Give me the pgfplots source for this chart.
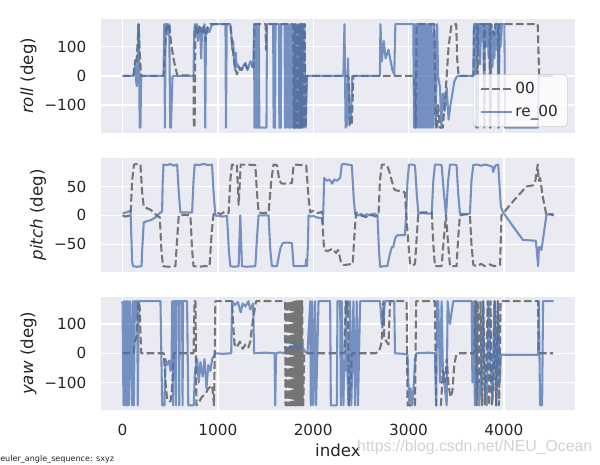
\documentclass[border=0pt]{standalone}
\usepackage{fontspec}
\setmainfont{DejaVu Sans}
\newfontfamily\wmfont{Liberation Sans}
\usepackage{pgfplots}
\pgfplotsset{compat=1.18}

\definecolor{bgc}{HTML}{EAEAF2}
\definecolor{txt}{HTML}{262626}
\definecolor{snsblue}{HTML}{4C72B0}
\definecolor{dgray}{HTML}{696969}

\pgfplotsset{
  sns/.style={
    scale only axis, width=341.3pt, height=81.7pt,
    xmin=-226, xmax=4746, anchor=south west,
    axis background/.style={fill=bgc},
    axis line style={draw=none},
    major tick length=0pt,
    grid=major, major grid style={white, line width=1pt},
    xtick={0,1000,2000,3000,4000},
    tick label style={font=\fontsize{11}{13}\selectfont, text=txt},
    yticklabel style={xshift=-7pt},
    xticklabel style={yshift=-7pt},
    label style={font=\fontsize{12}{14}\selectfont, text=txt},
  },
  orig/.style={dgray, opacity=0.9, line width=1.5pt, dash pattern=on 5.55pt off 2.4pt, line join=round},
  recon/.style={snsblue, opacity=0.75, line width=1.5pt, line join=round},
}

\begin{document}
\begin{tikzpicture}
\useasboundingbox (0,0) rectangle (432pt,334.8pt);

% roll
\begin{axis}[sns, at={(72.7pt,239.3pt)},
  ymin=-195, ymax=195, ytick={-100,0,100}, yticklabels={−100,0,100},
  xticklabels={},
  ylabel={\textit{roll} (deg)},
  ylabel style={at={(axis description cs:-0.153,0.5)}, anchor=center},
  legend style={at={(axis description cs:0.985,0.513)}, anchor=north east,
    fill=white, fill opacity=0.8, text opacity=1, draw=black!20, rounded corners=3pt,
    font=\fontsize{11}{13}\selectfont, text=txt, inner xsep=5pt, inner ysep=3.5pt, row sep=3pt,
    /tikz/every even column/.append style={column sep=4pt}},
  legend cell align=left,
  legend image code/.code={\draw[#1] (0pt,0pt) -- (22pt,0pt);}]
\addplot[orig] coordinates {
(0,0)(115,0)(125,30)(135,55)(145,40)(160,120)(170,178)(180,80)(195,0)(430,0)(445,80)(460,178)(475,160)(490,178)(510,110)(540,50)(575,2)(745,2)(748,-178)(756,-178)(765,170)(790,140)(810,175)(830,150)(850,170)(870,120)(890,165)(920,178)(1130,178)(1150,110)(1175,40)(1200,5)(1220,30)(1250,20)(1280,40)(1310,25)(1340,35)(1375,30)(1385,178)(1500,178)(1505,90)(1512,178)(1790,178)(1795,-178)(1802,-178)(1806,178)(1812,178)(1816,-178)(1822,-178)(1826,178)(1832,178)(1836,-178)(1842,-178)(1846,178)(1852,178)(1856,-178)(1862,-178)(1866,178)(1872,178)(1876,-178)(1882,-178)(1886,178)(1892,178)(1896,-178)(1902,-178)(1906,178)(1912,178)(1916,-178)(1922,-178)(1930,0)(2370,0)(2387,-170)(2405,-165)(2422,0)(3060,0)(3075,-178)(3085,178)(3270,178)(3285,-178)(3300,-178)(3310,-100)(3330,-178)(3360,-178)(3390,-50)(3420,100)(3450,175)(3500,178)(3510,60)(3525,0)(3680,0)(3690,178)(3720,178)(3725,-178)(3730,178)(3790,178)(3795,-178)(3800,178)(3850,178)(3855,-178)(3860,178)(3900,140)(3910,178)(3940,178)(3945,-178)(3950,178)(4355,178)(4370,0)(4520,0)};
\addplot[recon] coordinates {
(0,0)(115,0)(125,20)(135,45)(140,-10)(150,-35)(160,10)(165,178)(172,160)(180,-178)(188,-178)(195,-5)(205,0)(430,0)(438,178)(445,-178)(452,178)(470,178)(480,140)(490,178)(500,-178)(508,-178)(515,-100)(525,0)(745,0)(752,150)(760,178)(770,150)(780,178)(790,120)(800,170)(815,150)(825,60)(835,165)(850,150)(860,178)(868,-178)(875,150)(890,165)(910,150)(930,170)(950,178)(1080,178)(1085,-178)(1093,178)(1130,178)(1140,150)(1150,90)(1160,120)(1170,60)(1180,20)(1190,80)(1195,30)(1210,40)(1230,20)(1260,30)(1290,45)(1310,20)(1340,50)(1360,35)(1375,60)(1380,178)(1384,-178)(1390,178)(1395,-178)(1400,178)(1404,-178)(1410,178)(1416,-178)(1420,178)(1425,-178)(1430,178)(1435,-178)(1510,-178)(1515,178)(1580,178)(1585,-178)(1600,-178)(1605,178)(1640,178)(1645,-178)(1660,-178)(1665,178)(1700,178)(1705,-178)(1720,-178)(1725,178)(1740,178)(1745,-178)(1760,-178)(1765,178)(1780,178)(1785,-178)(1795,-178)(1800,178)(1810,-178)(1820,178)(1830,-178)(1840,178)(1850,-178)(1860,178)(1870,-178)(1880,178)(1895,-178)(1905,178)(1920,-178)(1935,0)(2317,0)(2328,178)(2340,-178)(2352,-170)(2365,60)(2380,-170)(2395,-150)(2410,0)(2700,0)(2705,178)(2720,50)(2740,120)(2760,60)(2790,90)(2830,20)(2850,5)(2862,178)(3050,178)(3058,-178)(3066,178)(3074,-178)(3082,178)(3090,-178)(3098,178)(3106,-178)(3114,178)(3122,-178)(3130,178)(3138,-178)(3146,178)(3154,-178)(3162,178)(3170,-178)(3178,178)(3186,-178)(3194,178)(3202,-178)(3210,178)(3218,-178)(3226,178)(3234,-178)(3242,178)(3255,-178)(3270,178)(3285,-178)(3300,178)(3310,0)(3330,-40)(3345,-178)(3360,-60)(3380,-120)(3400,-40)(3420,-150)(3440,-100)(3460,-60)(3480,-20)(3500,-5)(3520,0)(3680,0)(3685,178)(3695,60)(3700,178)(3710,-178)(3715,178)(3730,80)(3740,178)(3750,40)(3760,178)(3775,120)(3785,178)(3795,-178)(3800,178)(3815,100)(3830,178)(3840,60)(3850,178)(3860,-178)(3870,178)(3880,30)(3890,150)(3900,60)(3915,178)(3925,90)(3935,178)(3945,-178)(3955,178)(3965,100)(3980,178)(4005,178)(4012,-178)(4355,-178)(4366,0)(4520,0)};
\legend{00,re\_00}
\end{axis}

% pitch
\begin{axis}[sns, at={(72.7pt,139.2pt)},
  ymin=-97.5, ymax=99, ytick={-50,0,50}, yticklabels={−50,0,50},
  xticklabels={},
  ylabel={\textit{pitch} (deg)},
  ylabel style={at={(axis description cs:-0.133,0.5)}, anchor=center}]
\addplot[orig] coordinates {
(0,0)(30,-2)(84,0)(101,60)(120,88)(150,89)(188,88)(206,40)(223,15)(260,12)(290,10)(330,5)(370,-2)(391,-3)(408,-60)(425,-88)(480,-89)(555,-88)(573,-40)(590,0)(650,1)(712,0)(730,-60)(745,-88)(800,-89)(860,-88)(913,-88)(935,-30)(955,2)(990,5)(1030,2)(1070,6)(1113,4)(1130,60)(1148,88)(1180,87)(1200,88)(1218,18)(1240,88)(1300,88)(1393,87)(1410,40)(1427,5)(1480,4)(1532,5)(1560,60)(1584,88)(1620,87)(1645,60)(1670,55)(1720,55)(1777,56)(1795,88)(1812,88)(1864,87)(1900,88)(1927,86)(1951,30)(1969,5)(2000,8)(2050,4)(2091,6)(2103,-30)(2115,-60)(2150,-62)(2200,-58)(2240,-65)(2262,-60)(2290,-80)(2318,-86)(2370,-85)(2415,-84)(2430,-40)(2450,5)(2500,0)(2550,-3)(2600,2)(2650,-2)(2685,0)(2700,60)(2720,88)(2750,88)(2776,86)(2800,75)(2824,60)(2850,45)(2876,43)(2920,42)(2960,40)(2990,-30)(3016,-85)(3050,-86)(3068,-84)(3085,-40)(3103,5)(3150,5)(3243,5)(3260,-50)(3277,-88)(3320,-88)(3347,-88)(3370,-40)(3393,0)(3415,-50)(3435,-88)(3504,-88)(3520,-40)(3539,0)(3600,2)(3644,0)(3660,-50)(3680,-86)(3720,-88)(3760,-84)(3800,-88)(3850,-85)(3900,-88)(3960,-86)(3975,0)(4100,25)(4237,50)(4307,52)(4330,60)(4355,88)(4365,60)(4380,65)(4410,30)(4447,0)(4480,2)(4523,0)};
\addplot[recon] coordinates {
(0,4)(40,5)(84,8)(101,-80)(110,-88)(150,-89)(200,-88)(206,-60)(223,-12)(260,-10)(300,-8)(340,-4)(380,2)(398,5)(415,6)(422,60)(430,88)(470,87)(500,89)(540,86)(573,88)(590,40)(607,5)(650,5)(730,5)(745,60)(757,88)(800,87)(850,89)(900,87)(939,88)(955,40)(974,0)(1000,-1)(1050,-2)(1096,-1)(1115,-60)(1131,-88)(1170,-89)(1218,-88)(1235,0)(1253,-88)(1300,-89)(1393,-88)(1410,-40)(1427,0)(1480,0)(1532,0)(1550,-60)(1567,-88)(1620,-88)(1640,-70)(1660,-55)(1682,-48)(1720,-47)(1777,-48)(1794,-88)(1864,-88)(1900,-88)(1920,-87)(1927,-76)(1935,-88)(1945,-50)(1951,0)(1969,-2)(2000,-1)(2050,-4)(2091,-5)(2101,-15)(2108,20)(2115,65)(2140,60)(2170,62)(2200,55)(2220,62)(2250,60)(2283,65)(2300,88)(2318,89)(2360,88)(2405,87)(2425,30)(2440,2)(2480,0)(2500,3)(2530,-1)(2560,2)(2600,0)(2640,3)(2674,0)(2690,-60)(2702,-89)(2740,-88)(2778,-88)(2800,-70)(2824,-55)(2840,-55)(2859,-40)(2876,-35)(2920,-34)(2963,-34)(2974,0)(2990,60)(3005,88)(3050,88)(3068,86)(3085,40)(3103,3)(3150,4)(3200,3)(3243,3)(3260,60)(3277,88)(3320,88)(3347,87)(3370,40)(3393,0)(3415,60)(3435,88)(3470,88)(3504,87)(3520,40)(3539,3)(3600,2)(3644,3)(3660,60)(3679,87)(3720,88)(3760,86)(3800,88)(3850,86)(3881,84)(3888,75)(3910,86)(3941,88)(3955,50)(3968,15)(3993,5)(4100,-20)(4202,-43)(4250,-43)(4335,-44)(4345,-60)(4359,-88)(4368,-55)(4377,-55)(4394,-60)(4420,-30)(4447,1)(4480,2)(4523,2)};
\end{axis}

% yaw
\begin{axis}[sns, at={(72.7pt,39.6pt)},
  ymin=-194, ymax=194, ytick={-100,0,100}, yticklabels={−100,0,100},
  xticklabels={0,1000,2000,3000,4000},
  xlabel={index},
  xlabel style={at={(axis description cs:0.5,0)}, anchor=north, yshift=-20.5pt},
  ylabel={\textit{yaw} (deg)},
  ylabel style={at={(axis description cs:-0.153,0.5)}, anchor=center}]
\addplot[orig] coordinates {
(0,0)(117,0)(130,40)(150,60)(165,178)(180,160)(195,0)(433,0)(451,-100)(468,-160)(503,-165)(520,-120)(538,0)(745,0)(755,178)(765,178)(775,-178)(800,-170)(830,-150)(870,-140)(900,-120)(940,-110)(960,-178)(974,178)(1149,178)(1160,100)(1175,30)(1200,20)(1230,40)(1260,15)(1290,30)(1320,20)(1340,40)(1370,120)(1400,178)(1705,178)(1710,-178)(1716,-178)(1720,178)(1726,178)(1730,-178)(1736,-178)(1740,178)(1746,178)(1750,-178)(1756,-178)(1760,178)(1766,178)(1770,-178)(1776,-178)(1780,178)(1786,178)(1790,-178)(1796,-178)(1800,178)(1806,178)(1810,-178)(1816,-178)(1820,178)(1826,178)(1830,-178)(1836,-178)(1840,178)(1846,178)(1850,-178)(1856,-178)(1860,178)(1866,178)(1870,-178)(1876,-178)(1880,178)(1886,178)(1890,-178)(1896,-178)(1905,0)(2330,0)(2340,178)(2355,140)(2365,178)(2375,-178)(2395,-100)(2405,0)(2649,0)(2690,5)(2720,40)(2736,178)(2745,50)(2770,40)(2790,30)(2806,178)(2980,178)(2990,-178)(3068,-178)(3080,178)(3277,178)(3290,-178)(3340,-178)(3360,-60)(3382,-100)(3400,-20)(3420,-110)(3440,-150)(3460,-130)(3480,-40)(3500,-5)(3521,0)(3690,0)(3700,178)(3715,-178)(3725,178)(3740,-100)(3755,178)(3770,-178)(3785,178)(3800,-178)(3815,-50)(3830,178)(3845,-178)(3860,178)(3875,-178)(3890,-120)(3905,178)(3920,-178)(3935,178)(3950,-178)(3965,178)(4359,178)(4366,0)(4516,0)};
\addplot[recon] coordinates {
(0,178)(10,-178)(20,178)(32,-178)(40,178)(49,-178)(58,178)(67,-178)(80,178)(101,-178)(110,178)(119,-178)(130,178)(154,178)(160,-178)(171,178)(398,178)(416,-178)(440,-178)(451,-20)(468,-40)(490,-25)(503,-60)(515,-30)(520,178)(531,-178)(538,178)(555,178)(560,-178)(565,178)(590,178)(595,-178)(600,178)(625,178)(630,-178)(635,178)(677,178)(690,-178)(747,-178)(760,-60)(782,-20)(800,-100)(817,-30)(840,-80)(860,-20)(880,-120)(900,-40)(922,-60)(940,-20)(957,-10)(974,0)(1050,-2)(1140,0)(1149,178)(1180,165)(1210,175)(1240,140)(1260,170)(1290,160)(1320,178)(1340,150)(1370,170)(1380,0)(1500,2)(1595,0)(1602,-178)(1610,0)(1650,3)(1700,0)(1724,10)(1760,25)(1790,20)(1810,40)(1840,15)(1880,25)(1916,5)(1940,0)(1969,178)(1975,-178)(1990,178)(2000,-178)(2020,178)(2030,-178)(2056,178)(2178,178)(2185,-178)(2248,-178)(2255,178)(2283,178)(2290,-178)(2300,178)(2317,-178)(2325,-40)(2335,-60)(2345,178)(2355,-30)(2370,-178)(2387,178)(2400,-178)(2422,178)(2439,-178)(2457,178)(2470,-178)(2492,178)(2701,178)(2710,140)(2719,100)(2736,100)(2745,150)(2754,178)(2850,178)(2858,0)(2950,-2)(2990,-5)(2998,-100)(3010,-178)(3020,-120)(3040,-178)(3060,-80)(3068,-20)(3085,0)(3200,2)(3277,0)(3290,-178)(3300,178)(3312,178)(3330,-100)(3347,178)(3360,-60)(3382,-120)(3400,-178)(3410,178)(3434,100)(3469,178)(3661,178)(3670,-100)(3680,178)(3696,-178)(3710,178)(3720,-60)(3740,-178)(3760,-80)(3780,178)(3800,-120)(3820,-178)(3840,178)(3860,-50)(3880,-150)(3900,178)(3920,-178)(3940,178)(3958,-100)(3968,-5)(4100,-5)(4250,-5)(4359,-5)(4366,178)(4380,-178)(4401,-178)(4411,178)(4523,178)};
\end{axis}

\node[anchor=base west, inner sep=0pt, font=\fontsize{5.8}{6}\selectfont, text=txt] at (0pt,2.4pt) {euler\_angle\_sequence: sxyz};
\node[anchor=base west, inner sep=0pt, font=\wmfont\fontsize{11.4}{13}\selectfont, text=black!18] at (257pt,9.6pt) {https://blog.csdn.net/NEU\_Ocean};
\end{tikzpicture}
\end{document}
